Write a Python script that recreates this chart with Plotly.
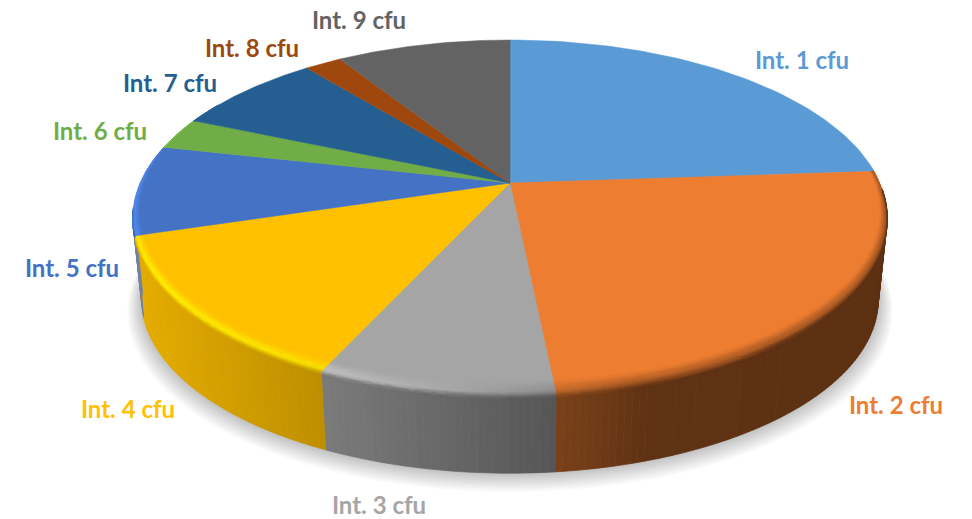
import math
import plotly.graph_objects as go

labels = ["Int. 1 cfu", "Int. 2 cfu", "Int. 3 cfu", "Int. 4 cfu", "Int. 5 cfu",
          "Int. 6 cfu", "Int. 7 cfu", "Int. 8 cfu", "Int. 9 cfu"]
values = [23.9, 24.5, 8.5, 13.4, 8.2, 2.9, 7.7, 1.9, 9.0]
colors = ["#5b9bd5", "#ed7d31", "#a5a5a5", "#ffc000", "#4472c4",
          "#70ad47", "#255e91", "#9e480e", "#636363"]
label_x = [802, 896, 379, 128, 72, 100, 170, 252, 359]
label_y = [63, 408, 508, 412, 271, 134, 86, 51, 23]

# projection of the tilted disc
CX, CY, A, B, K = 510.0, 183.0, 370.0, 170.9, 0.195
BOT_S, BOT_DY = 0.976, 83.0


def proj(deg, r=1.0):
    t = math.radians(deg)
    u, v = r * math.sin(t), r * math.cos(t)
    w = 1 + K * v
    return CX + A * u / w, CY - B * v / w


def bottom(deg, grow=0.0, dy=0.0):
    x, y = proj(deg)
    s = BOT_S + grow
    return CX + (x - CX) * s, CY + (y - CY) * s + BOT_DY + dy


def rgb(h):
    return tuple(int(h[i:i + 2], 16) for i in (1, 3, 5))


def hexc(c):
    return "#%02x%02x%02x" % tuple(max(0, min(255, int(round(q)))) for q in c)


def scale(c, f):
    return tuple(min(255, q * f) for q in c)


def mix(a, b, t):
    return tuple(p + (q - p) * t for p, q in zip(a, b))


def interp(x, pts):
    if x <= pts[0][0]:
        return pts[0][1]
    for (x0, y0), (x1, y1) in zip(pts, pts[1:]):
        if x <= x1:
            return y0 + (y1 - y0) * (x - x0) / (x1 - x0)
    return pts[-1][1]


WALL_F = [(135, 0.90), (325, 0.74), (555, 0.52), (650, 0.40), (886, 0.39)]
HIGHLIGHT = [(165, 0.0), (205, 0.8), (240, 1.0), (262, 0.8), (285, 0.5), (300, 0.0)]

fig = go.Figure()


def add_layer(groups):
    for col, polys in groups.items():
        xs, ys = [], []
        for p in polys:
            xs += [q[0] for q in p] + [p[0][0], None]
            ys += [q[1] for q in p] + [p[0][1], None]
        fig.add_trace(go.Scatter(x=xs, y=ys, mode="lines", fill="toself", fillcolor=col,
                                 line=dict(color=col, width=0.7), hoverinfo="skip", showlegend=False))


# slice angles
total = sum(values)
edges = [0.0]
for val in values:
    edges.append(edges[-1] + val / total * 360)

# soft shadow beneath the disc
for i in range(12, 0, -1):
    grow = i * 0.0032
    pts = [bottom(d, grow=grow, dy=i * 0.9) for d in range(0, 360, 3)]
    fig.add_trace(go.Scatter(x=[p[0] for p in pts] + [pts[0][0]], y=[p[1] for p in pts] + [pts[0][1]],
                             mode="lines", fill="toself", fillcolor="rgba(0,0,0,0.02)",
                             line=dict(width=0), hoverinfo="skip", showlegend=False))

STEP = 1.0


def segs(a0, a1):
    n = max(1, int(math.ceil((a1 - a0) / STEP)))
    return [(a0 + (a1 - a0) * i / n, a0 + (a1 - a0) * (i + 1) / n) for i in range(n)]


# outer wall
wall = {}
for k in range(len(values)):
    a0, a1 = max(edges[k], 92), min(edges[k + 1], 262)
    if a1 <= a0:
        continue
    for s0, s1 in segs(a0, a1):
        xm = proj((s0 + s1) / 2)[0]
        base = rgb(colors[k])
        if k == 4:
            base = mix(base, (165, 165, 165), 0.6)
        col = hexc(scale(base, interp(xm, WALL_F)))
        wall.setdefault(col, []).append([proj(s0), proj(s1), bottom(s1), bottom(s0)])
add_layer(wall)

# top faces
for k in range(len(values)):
    arc = [edges[k] + (edges[k + 1] - edges[k]) * i / 60 for i in range(61)]
    pts = [(CX, CY)] + [proj(d) for d in arc]
    fig.add_trace(go.Scatter(x=[p[0] for p in pts] + [CX], y=[p[1] for p in pts] + [CY],
                             mode="lines", fill="toself", fillcolor=colors[k],
                             line=dict(color=colors[k], width=0.5),
                             hoverinfo="skip", showlegend=False))

# bevel along the rim
OFFS = [-14, -11, -9, -7, -5, -3, -1, 1, 3, 5]
bevel = {}


def ring(deg, off):
    x, y = proj(deg)
    v = math.cos(math.radians(deg))
    f = max(0.12, min(1.0, 0.35 - 0.9 * v))
    if off >= 0:
        return x, y + off * f
    d = math.hypot(x - CX, y - CY)
    s = 1 + off * f / d
    return CX + (x - CX) * s, CY + (y - CY) * s


for k in range(len(values)):
    a0, a1 = max(edges[k], 86), min(edges[k + 1], 300)
    if a1 <= a0:
        continue
    top = rgb(colors[k])
    for s0, s1 in segs(a0, a1):
        mid = (s0 + s1) / 2
        w = scale(top, interp(proj(mid)[0], WALL_F))
        h = interp(mid, HIGHLIGHT)
        dark = top if mid > 262 else mix(top, w, 0.5)
        peak = mix(dark, scale(top, 1.25), h)
        on_wall = 92 <= mid <= 262
        for o0, o1 in zip(OFFS, OFFS[1:]):
            o = (o0 + o1) / 2
            if o > -1 and not on_wall:
                continue
            if o < -3:
                col = mix(top, peak, (o + 14) / 11)
            elif on_wall:
                col = mix(peak, w, min(1, (o + 3) / 6))
            else:
                col = peak
            c = hexc(col)
            bevel.setdefault(c, []).append([ring(s0, o0), ring(s1, o0), ring(s1, o1), ring(s0, o1)])
add_layer(bevel)

# labels
fig.add_trace(go.Scatter(x=label_x, y=label_y, mode="text", text=labels,
                         textfont=dict(family="Lato", size=24, color=colors, weight="bold"),
                         textposition="middle center", hoverinfo="skip", showlegend=False))

fig.update_layout(width=972, height=519, margin=dict(l=0, r=0, t=0, b=0),
                  paper_bgcolor="white", plot_bgcolor="white", showlegend=False,
                  xaxis=dict(range=[0, 972], visible=False, fixedrange=True),
                  yaxis=dict(range=[519, 0], visible=False, fixedrange=True))
fig.write_html("out.html", config={"displayModeBar": False},
               post_script="document.body.style.margin='0';document.body.style.overflow='hidden';")
